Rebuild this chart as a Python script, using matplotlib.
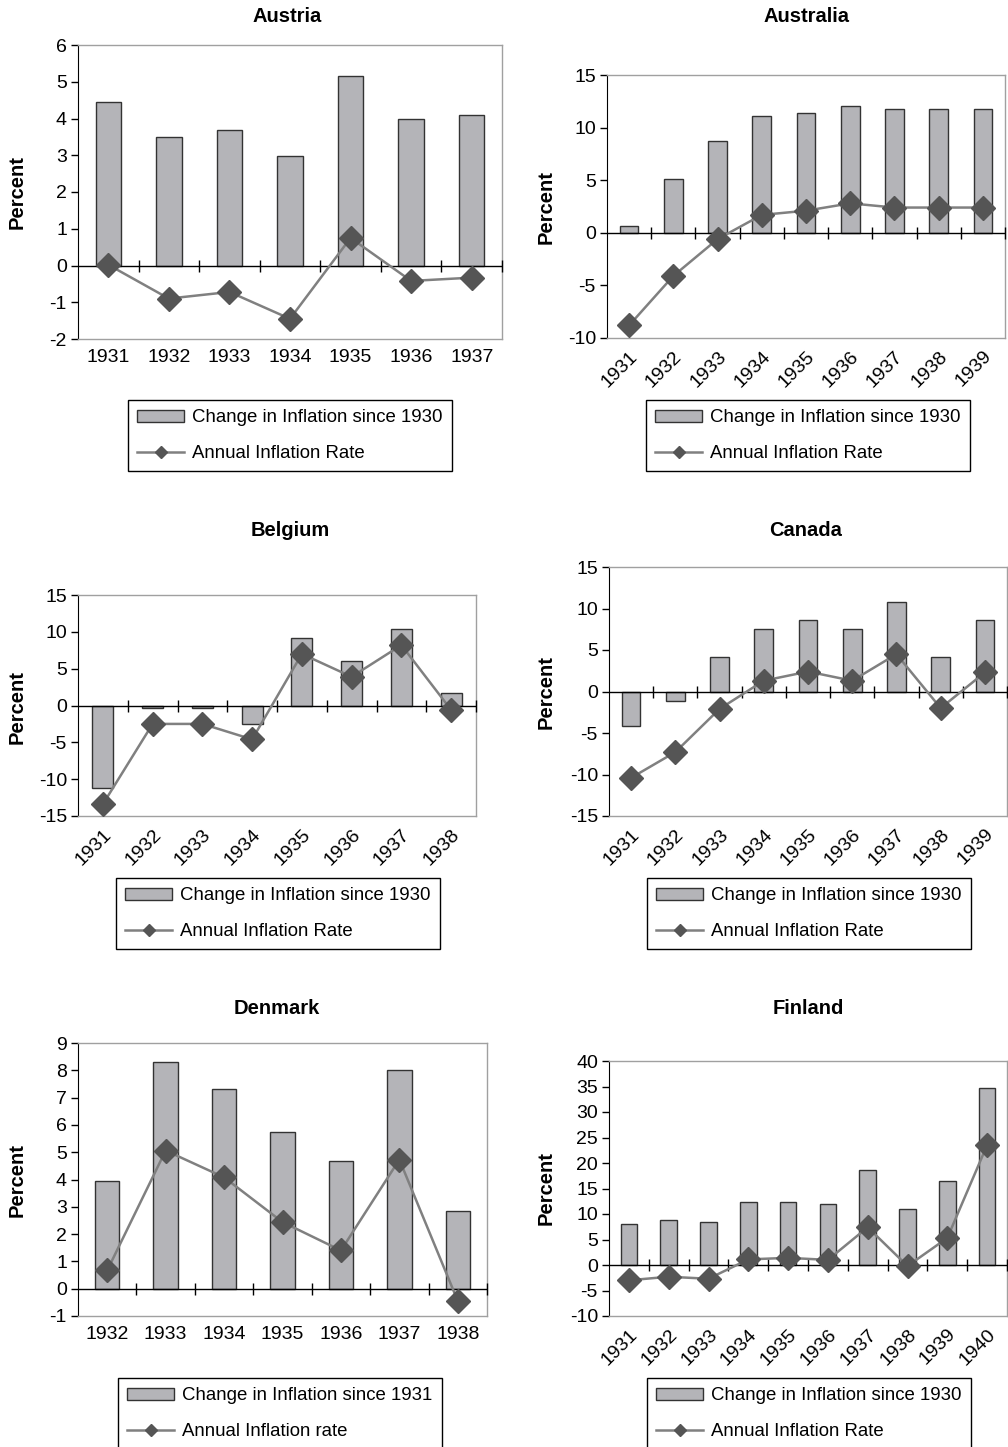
import numpy as np
import matplotlib
matplotlib.use("Agg")
import matplotlib.pyplot as plt
import matplotlib.transforms as mtransforms
from matplotlib.patches import Patch
from matplotlib.lines import Line2D

plt.rcParams['font.family'] = ['Liberation Sans', 'DejaVu Sans']
plt.rcParams['axes.unicode_minus'] = False

# --- data ---
austria_years = ["1931", "1932", "1933", "1934", "1935", "1936", "1937"]
austria_change = [4.45, 3.5, 3.7, 2.97, 5.17, 4.0, 4.1]
austria_rate = [0.02, -0.9, -0.72, -1.45, 0.75, -0.42, -0.33]

australia_years = ["1931", "1932", "1933", "1934", "1935", "1936", "1937", "1938", "1939"]
australia_change = [0.6, 5.1, 8.7, 11.1, 11.4, 12.1, 11.8, 11.8, 11.8]
australia_rate = [-8.8, -4.1, -0.6, 1.7, 2.1, 2.8, 2.4, 2.4, 2.4]

belgium_years = ["1931", "1932", "1933", "1934", "1935", "1936", "1937", "1938"]
belgium_change = [-11.2, -0.3, -0.3, -2.5, 9.2, 6.0, 10.4, 1.7]
belgium_rate = [-13.4, -2.5, -2.5, -4.6, 7.0, 3.9, 8.2, -0.6]

canada_years = ["1931", "1932", "1933", "1934", "1935", "1936", "1937", "1938", "1939"]
canada_change = [-4.1, -1.1, 4.1, 7.5, 8.6, 7.5, 10.8, 4.1, 8.6]
canada_rate = [-10.4, -7.3, -2.1, 1.3, 2.4, 1.3, 4.5, -2.0, 2.3]

denmark_years = ["1932", "1933", "1934", "1935", "1936", "1937", "1938"]
denmark_change = [3.94, 8.29, 7.3, 5.73, 4.67, 8.02, 2.84]
denmark_rate = [0.67, 5.06, 4.08, 2.44, 1.4, 4.73, -0.45]

finland_years = ["1931", "1932", "1933", "1934", "1935", "1936", "1937", "1938", "1939", "1940"]
finland_change = [8.1, 8.9, 8.5, 12.4, 12.4, 12.0, 18.7, 11.0, 16.5, 34.8]
finland_rate = [-3.0, -2.3, -2.7, 1.1, 1.4, 1.0, 7.4, -0.2, 5.3, 23.5]

BAR_FILL = "#b4b4b8"
BAR_EDGE = "#333333"
LINE_COL = "#808080"
MARK_COL = "#555555"

W, H = 1008, 1447
fig = plt.figure(figsize=(W / 100, H / 100), dpi=100)


def px_axes(x0, y0, x1, y1):
    return fig.add_axes([x0 / W, 1 - y1 / H, (x1 - x0) / W, (y1 - y0) / H])


def panel(box, title, title_xy, ylab_xy, years, change, rate, ylim, ystep,
          rotate, leg_xy, bar_label, line_label):
    ax = px_axes(*box)
    x = np.arange(len(years))
    ax.bar(x, change, width=0.42, color=BAR_FILL, edgecolor=BAR_EDGE,
           linewidth=1, zorder=2)
    ax.plot(x, rate, color=LINE_COL, lw=1.8, marker="D", ms=12,
            mfc=MARK_COL, mec=MARK_COL, zorder=4)
    # zero line with category separators crossing it
    ax.axhline(0, color="black", lw=1, zorder=3)
    bounds = np.arange(len(years) + 1) - 0.5
    ax.plot(bounds[1:], np.zeros(len(bounds) - 1), ls="none", marker="|",
            ms=9, mew=1, color="black", zorder=3, clip_on=False)

    ax.set_xlim(-0.5, len(years) - 0.5)
    ax.set_ylim(*ylim)
    ax.set_yticks(np.arange(ylim[0], ylim[1] + ystep / 2, ystep))
    ax.set_xticks(x)
    if rotate:
        ax.set_xticklabels(years, rotation=45, ha="right",
                           rotation_mode="anchor")
        shift = mtransforms.ScaledTranslation(0.09, -0.03, fig.dpi_scale_trans)
        for lab in ax.get_xticklabels():
            lab.set_transform(lab.get_transform() + shift)
    else:
        ax.set_xticklabels(years)
    ax.tick_params(axis="x", length=0, pad=7, labelsize=14)
    ax.tick_params(axis="y", direction="out", length=5, width=1,
                   labelsize=14, pad=3)
    for s in ("top", "right", "bottom"):
        ax.spines[s].set_color("#a0a0a0")
        ax.spines[s].set_linewidth(1)
    ax.spines["left"].set_color("black")

    fig.text(title_xy[0] / W, 1 - title_xy[1] / H, title, ha="center",
             va="center", fontsize=14.5, fontweight="bold")
    fig.text(ylab_xy[0] / W, 1 - ylab_xy[1] / H, "Percent", ha="center",
             va="center", rotation=90, fontsize=14.5, fontweight="bold")

    handles = [Patch(facecolor=BAR_FILL, edgecolor=BAR_EDGE, linewidth=1),
               Line2D([], [], color=LINE_COL, lw=1.8, marker="D", ms=6,
                      mfc=MARK_COL, mec=MARK_COL)]
    leg = ax.legend(handles, [bar_label, line_label], loc="upper left",
                    bbox_to_anchor=(leg_xy[0] / W, 1 - leg_xy[1] / H),
                    bbox_transform=fig.transFigure, fontsize=13.4,
                    frameon=True, fancybox=False, edgecolor="black",
                    framealpha=1, handlelength=2.5, handleheight=0.6,
                    handletextpad=0.45, borderpad=0.5, labelspacing=1.0,
                    borderaxespad=0)
    leg.get_frame().set_linewidth(1)
    return ax


panel((78, 45, 502, 339), "Austria", (287, 17), (17, 192),
      austria_years, austria_change, austria_rate, (-2, 6), 1, False,
      (128, 400), "Change in Inflation since 1930", "Annual Inflation Rate")

panel((607, 75, 1005, 338), "Australia", (806, 17), (546, 207),
      australia_years, australia_change, australia_rate, (-10, 15), 5, True,
      (646, 400), "Change in Inflation since 1930", "Annual Inflation Rate")

panel((78, 595, 476, 816), "Belgium", (290, 530), (17, 707),
      belgium_years, belgium_change, belgium_rate, (-15, 15), 5, True,
      (116, 878), "Change in Inflation since 1930", "Annual Inflation Rate")

panel((609, 567, 1007, 816), "Canada", (806, 530), (546, 692),
      canada_years, canada_change, canada_rate, (-15, 15), 5, True,
      (647, 878), "Change in Inflation since 1930", "Annual Inflation Rate")

panel((78, 1043, 487, 1316), "Denmark", (277, 1008), (17, 1180),
      denmark_years, denmark_change, denmark_rate, (-1, 9), 1, False,
      (118, 1378), "Change in Inflation since 1931", "Annual Inflation rate")

panel((609, 1061, 1007, 1316), "Finland", (808, 1008), (546, 1188),
      finland_years, finland_change, finland_rate, (-10, 40), 5, True,
      (647, 1378), "Change in Inflation since 1930", "Annual Inflation Rate")

fig.savefig("out.png", dpi=100)
